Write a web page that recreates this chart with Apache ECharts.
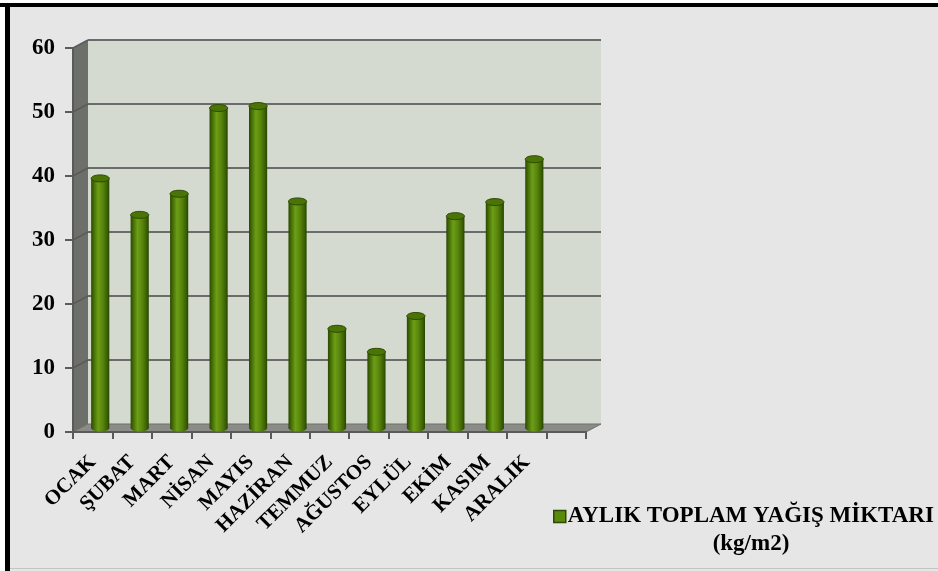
<!DOCTYPE html>
<html>
<head>
<meta charset="utf-8">
<script src="https://cdn.jsdelivr.net/npm/echarts@6/dist/echarts.min.js"></script>
<style>
html,body{margin:0;padding:0;background:#fff;}
#chart{width:938px;height:571px;}
</style>
</head>
<body>
<div id="chart"></div>
<script>
const categories = ['OCAK','ŞUBAT','MART','NİSAN','MAYIS','HAZİRAN','TEMMUZ','AĞUSTOS','EYLÜL','EKİM','KASIM','ARALIK',''];
const rainfall = [39.0, 33.3, 36.6, 50.0, 50.3, 35.4, 15.5, 11.9, 17.5, 33.1, 35.3, 42.0];
const yTicks = [0, 10, 20, 30, 40, 50, 60];
const seriesName = 'AYLIK TOPLAM YAĞIŞ MİKTARI';
const unitLabel = '(kg/m2)';

const DX = 15, DY = 8;
const FONT = 'Liberation Serif';

const chart = echarts.init(document.getElementById('chart'), null, {renderer: 'canvas'});

function renderWalls(params, api) {
  const cs = params.coordSys;
  const x0 = cs.x, x1 = cs.x + cs.width, yTop = cs.y, yBot = cs.y + cs.height;
  const children = [];
  children.push({type: 'rect', shape: {x: x0 + DX, y: yTop - DY, width: cs.width, height: cs.height},
    style: {fill: '#d4dad0'}});
  children.push({type: 'polygon', shape: {points: [[x0, yTop], [x0 + DX, yTop - DY], [x0 + DX, yBot - DY], [x0, yBot]]},
    style: {fill: '#6d6f6a'}});
  children.push({type: 'polygon', shape: {points: [[x0, yBot], [x1, yBot], [x1 + DX, yBot - DY], [x0 + DX, yBot - DY]]},
    style: {fill: '#8b8c87', stroke: '#6f706c', lineWidth: 1}});
  yTicks.forEach(function (v) {
    if (v === 0) return;
    const y = api.coord([0, v])[1];
    children.push({type: 'line', shape: {x1: x0 + DX, y1: y - DY, x2: x1 + DX, y2: y - DY},
      style: {stroke: '#6b6b6b', lineWidth: 2}});
    children.push({type: 'line', shape: {x1: x0, y1: y, x2: x0 + DX, y2: y - DY},
      style: {stroke: '#5a5a5a', lineWidth: 1.5}});
  });
  return {type: 'group', children: children};
}

function renderCylinder(params, api) {
  const i = api.value(0), v = api.value(1);
  const top = api.coord([i, v]);
  const base = api.coord([i, 0]);
  const w = api.size([1, 0])[0] * 0.46;
  const rx = w / 2, ry = 3.5;
  const cx = top[0] + DX / 2;
  const yt = top[1] - DY / 2, yb = base[1] - DY / 2;
  const grad = new echarts.graphic.LinearGradient(0, 0, 1, 0, [
    {offset: 0, color: '#2b4800'},
    {offset: 0.12, color: '#3f6604'},
    {offset: 0.38, color: '#6c9e16'},
    {offset: 0.65, color: '#58840c'},
    {offset: 0.88, color: '#3a6002'},
    {offset: 1, color: '#284400'}
  ]);
  return {type: 'group', children: [
    {type: 'ellipse', shape: {cx: cx, cy: yb, rx: rx, ry: ry}, style: {fill: grad}},
    {type: 'rect', shape: {x: cx - rx, y: yt, width: w, height: yb - yt}, style: {fill: grad}},
    {type: 'ellipse', shape: {cx: cx, cy: yt, rx: rx, ry: ry}, style: {fill: '#4b7407', stroke: '#2d4a00', lineWidth: 1}}
  ]};
}

const option = {
  backgroundColor: '#e6e6e6',
  animation: false,
  grid: {left: 73, top: 48, width: 513, height: 384},
  title: {
    text: unitLabel, left: 746, top: 528, textAlign: 'center',
    textStyle: {fontFamily: FONT, fontWeight: 'bold', fontSize: 23, color: '#000'}
  },
  legend: {
    data: [seriesName], left: 548, top: 500,
    icon: 'rect', itemWidth: 12, itemHeight: 12, itemGap: 0,
    itemStyle: {borderColor: '#2d4a00', borderWidth: 1.5},
    textStyle: {fontFamily: FONT, fontWeight: 'bold', fontSize: 23, color: '#000', padding: [0, 0, 0, -3]}
  },
  xAxis: {
    type: 'category', data: categories, boundaryGap: true,
    axisLine: {show: true, lineStyle: {color: '#5a5a5a', width: 2}},
    axisTick: {show: true, interval: 0, length: 7, lineStyle: {color: '#5a5a5a', width: 2}},
    axisLabel: {interval: 0, rotate: 45, margin: 27, fontFamily: FONT, fontWeight: 'bold', fontSize: 21, color: '#000'},
    splitLine: {show: false}
  },
  yAxis: {
    type: 'value', min: 0, max: 60, interval: 10,
    axisLine: {show: true, lineStyle: {color: '#5a5a5a', width: 2}},
    axisTick: {show: true, length: 8, lineStyle: {color: '#5a5a5a', width: 2}},
    axisLabel: {margin: 18, fontFamily: FONT, fontWeight: 'bold', fontSize: 23, color: '#000'},
    splitLine: {show: false}
  },
  graphic: [
    {type: 'rect', shape: {x: 0, y: 0, width: 938, height: 3}, style: {fill: '#ffffff'}, z: 100},
    {type: 'rect', shape: {x: 0, y: 0, width: 5, height: 571}, style: {fill: '#ffffff'}, z: 100},
    {type: 'rect', shape: {x: 0, y: 3, width: 938, height: 4}, style: {fill: '#000000'}, z: 101},
    {type: 'rect', shape: {x: 5, y: 3, width: 5, height: 568}, style: {fill: '#000000'}, z: 101},
    {type: 'rect', shape: {x: 10, y: 568, width: 928, height: 1}, style: {fill: '#c4c4c4'}, z: 101}
  ],
  series: [
    {
      type: 'custom', name: 'walls', silent: true, z: 0,
      renderItem: renderWalls, data: [[0, 0]], encode: {x: 0, y: 1}
    },
    {
      type: 'custom', name: seriesName, z: 2,
      itemStyle: {color: '#5a8a0c'},
      renderItem: renderCylinder,
      data: rainfall.map(function (v, i) { return [i, v]; }),
      encode: {x: 0, y: 1}
    }
  ]
};
chart.setOption(option);
</script>
</body>
</html>
